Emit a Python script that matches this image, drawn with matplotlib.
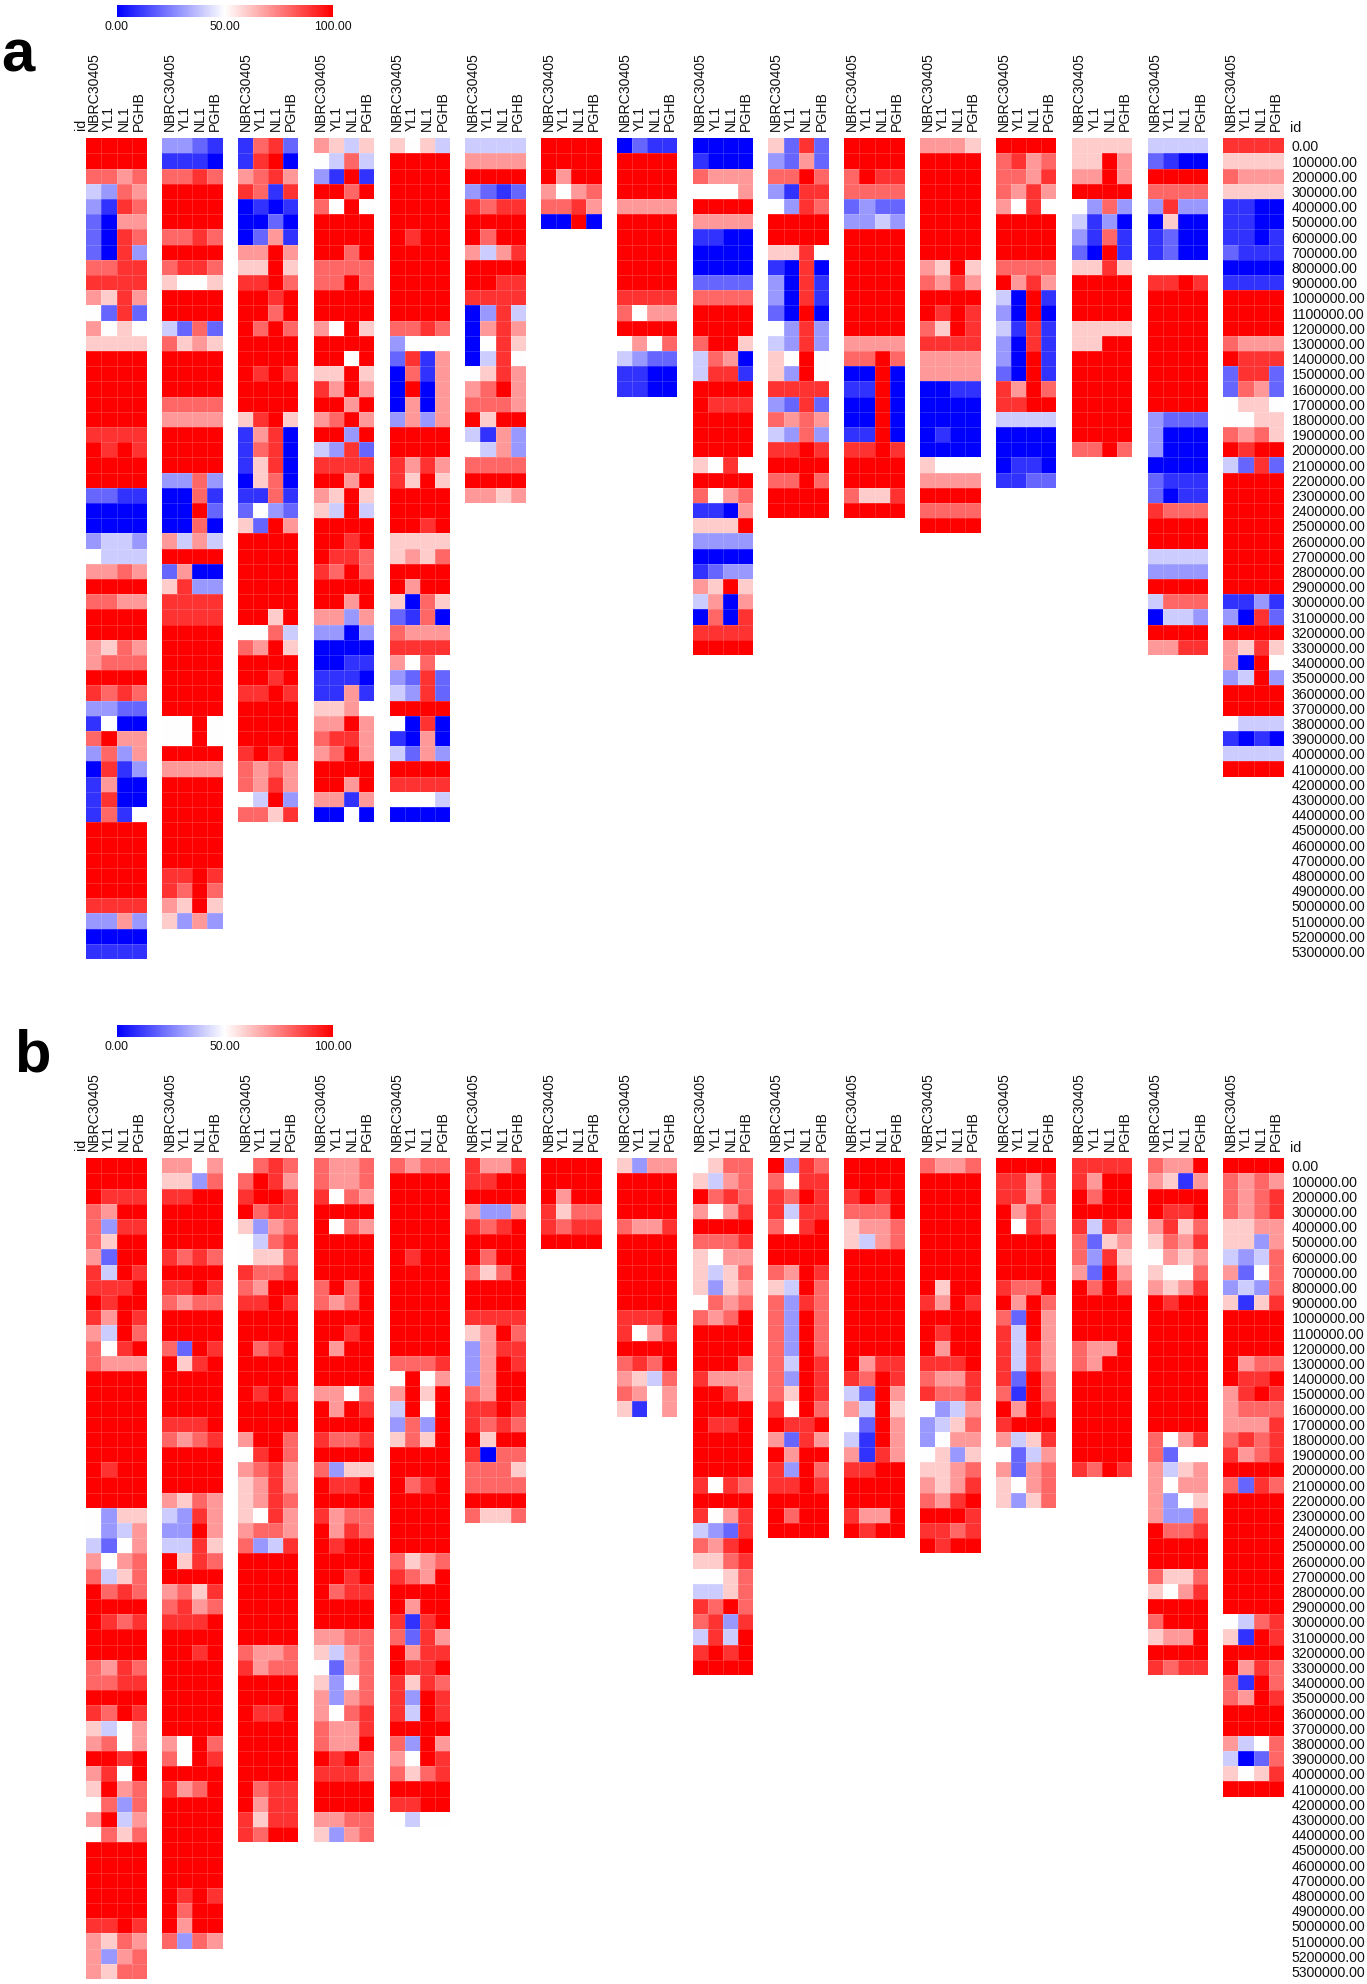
import matplotlib
matplotlib.use("Agg")
import matplotlib.pyplot as plt
from matplotlib.colors import LinearSegmentedColormap, Normalize
from matplotlib.cm import ScalarMappable
import numpy as np

plt.rcParams['font.family'] = ['Liberation Sans', 'DejaVu Sans']

SAMPLES = ["NBRC30405", "YL1", "NL1", "PGHB"]
POSITIONS = [f"{i * 100000}.00" if i else "0.00" for i in range(54)]

# every cell: digit d = d*10 %, A = 100 %; one string per row, columns in SAMPLES order
A00 = ["AAAA","AAAA","8878","4387","3198","2077","2098","2093","8899","9999","7697","5292","7565","6666","AAAA","AAAA","AAAA","AAAA","AAAA","9999","A9A9","AAAA","AAAA","2211","0000","0000","3443","5444","7787","AAAA","8877","AAAA","AAAA","7687","7888","AAAA","9898","3322","1500","8A77","3837","0913","1700","1900","1815","AAAA","AAAA","AAAA","AAAA","AAAA","9999","3373","0000","1111"]
A01 = ["3321","1110","8898","AAAA","AAAA","AAAA","8898","AAAA","8998","6556","AAAA","AAAA","4282","8676","AAAA","AAAA","AAAA","8888","7777","AAAA","AAAA","AAAA","3383","0081","00A2","0080","7474","AAAA","2700","6933","9999","9999","AAAA","AAAA","AAAA","AAAA","AAAA","AAAA","55A5","55A5","AAAA","7777","AAAA","AAAA","AAAA","AAAA","AAAA","AAAA","99A9","98A8","76A6","6373"]
A02 = ["1892","19A0","7897","9819","0101","0020","0271","77A7","66A6","99A8","AA9A","AA8A","A8A8","AAAA","AAAA","A9A9","AAAA","AAAA","69A6","1790","1890","1690","0680","1181","2532","62A7","AAAA","AAAA","AAAA","AAAA","AAAA","AA6A","5584","87A6","AAAA","AA9A","99A9","AAAA","AAAA","AAAA","9A9A","8787","8797","54A3","8869"]
A03 = ["7646","5484","31A1","AA8A","85A5","AAAA","AAAA","AA8A","8888","88A8","AAAA","AAAA","75A6","AAAA","AA5A","66A6","97A7","AA7A","78A7","AA3A","4392","9999","AA7A","76A6","64A4","AAAA","AA9A","A998","98A8","AAAA","AA7A","7737","3303","0000","0011","1110","1171","6675","77A7","8997","78A7","AAAA","AA7A","7717","0050"]
A04 = ["6564","AAAA","AAAA","AAAA","AAAA","AAAA","A9AA","AAAA","AAAA","AAAA","AAAA","AAAA","8898","3555","2917","0817","0A07","0707","3737","AAAA","AAAA","9797","96A6","AAAA","AAAA","AA9A","6666","6768","AAAA","A7AA","6086","2180","8777","9999","7585","3292","4392","AAAA","5090","1070","4273","AAAA","9999","5554","0000"]
A05 = ["4444","7777","AAAA","3212","9899","AAAA","A8AA","7479","AAAA","AA99","9999","0394","0797","0596","0495","5697","78A7","8887","A6AA","4173","5473","8888","AAAA","7767"]
A06 = ["AAAA","AAAA","A7AA","7578","8897","00A0"]
A07 = ["0211","AAAA","AAAA","AAAA","7777","AAAA","AAAA","AAAA","AAAA","AAAA","9999","8577","AAAA","5758","4322","1100","1100"]
A08 = ["0000","1000","8777","5557","AAAA","7777","1100","0000","0000","2222","8888","AAAA","AAAA","8AA6","4870","4991","AAAA","A999","AAAA","AAAA","AAAA","6595","AAAA","8578","1107","666A","3333","0000","1233","76A6","4707","0809","9999","AAAA"]
A09 = ["6292","3272","88A8","3199","5398","AAAA","AAAA","6695","1090","3091","3091","20A0","5393","4393","65A5","63A5","9999","3292","8787","4383","99A9","AAAA","88A8","AAAA","AAAA"]
A10 = ["AAAA","AAAA","8A99","8888","2322","3343","AAAA","AAAA","AAAA","AAAA","AAAA","AAAA","AAAA","7777","88A8","00A0","11A0","00A0","00A0","11A0","99A9","AAAA","AAAA","8669","AAAA"]
A11 = ["7776","AAAA","AAAA","AAAA","AAAA","AAAA","AAAA","AAAA","76A6","8797","AAAA","A9A9","86A9","9999","7777","7777","0011","0000","0000","0100","0000","6555","7777","AAAA","8888","AAAA"]
A12 = ["AAAA","8978","8879","8797","7595","AAAA","AAAA","AAAA","8888","A797","40A1","30A0","4191","3091","30A1","20A1","97A8","99AA","4444","0000","0000","0110","1122"]
A13 = ["6666","66A7","77A7","AAAA","5383","4130","3181","20A1","6696","AAAA","AAAA","AAAA","6666","66AA","AAAA","AAAA","AAAA","AAAA","AAAA","AAAA","88A8"]
A14 = ["4444","2100","AAAA","8888","3933","0600","1200","1200","5555","99A9","AAAA","AAAA","AAAA","AAAA","AAAA","AAAA","AAAA","AAAA","3222","3000","3000","0000","2111","2011","9888","AAAA","AAAA","4444","3333","AAAA","4888","0443","AAAA","7799"]
A15 = ["9999","6666","8777","6666","1100","1100","1101","2111","0000","1111","AAAA","AAAA","AAAA","8777","A999","2992","2872","5665","5566","8786","A9AA","4292","AAAA","AAAA","AAAA","AAAA","AAAA","AAAA","AAAA","AAAA","1131","3092","AAAA","7696","70A5","34A3","AAAA","AAAA","5444","1010","4444","AAAA"]

B00 = ["AAAA","AAAA","A999","87AA","8399","86AA","72AA","94A9","999A","A9AA","97A9","74A8","859A","8777","AAAA","AAAA","AAAA","AAAA","AAAA","AAAA","A9AA","AAAA","AAAA","5366","5347","4257","7578","8468","A898","AAAA","A989","AAAA","AAAA","8798","8899","AAAA","98A9","6457","7857","AA9A","795A","6A78","5838","7A47","5868","AAAA","AAAA","AAAA","AAAA","AAAA","99A9","7687","7378","7688"]
B01 = ["7757","6638","99AA","AAAA","AAAA","AAAA","9898","AAAA","99A9","8788","AAAA","AAAA","82A9","A69A","AAAA","AAAA","AAAA","999A","8789","AAAA","AAAA","AAAA","7687","4397","33A7","4496","A698","AAAA","7869","8978","999A","AAAA","AA9A","AAAA","AAAA","AAAA","AAAA","AAAA","75A8","85A9","AAAA","978A","AAAA","AAAA","AAAA","AAAA","AAAA","AAAA","A9A9","A8AA","A7AA","8387"]
B02 = ["5898","8A97","9AA9","A899","6378","5489","5668","9889","87AA","99A9","AAAA","AAAA","A89A","AAAA","AAAA","A9A9","AAAA","AAAA","7AA8","59A8","7897","6797","6798","6597","7887","8349","AAAA","AAAA","AAAA","AAAA","AAAA","AAAA","8778","9788","AAAA","AAAA","A99A","AAAA","AAAA","AAAA","AAAA","A899","A799","9699","98AA"]
B03 = ["8778","8778","9587","AAAA","A587","AAAA","AAAA","AAAA","8A8A","878A","AAAA","AA9A","A7AA","AAAA","AAAA","7758","A7A9","AAAA","9889","AAAA","8366","A99A","AAAA","9788","A798","A9AA","AAAA","AA9A","A899","AAAA","AAAA","7788","6478","5278","6358","7378","7589","8779","877A","A9A8","9998","AAAA","AAAA","7788","6378"]
B04 = ["8788","AAAA","AAAA","AAAA","AAAA","AAAA","A9AA","AAAA","AAAA","AAAA","AAAA","AAAA","AAAA","8889","5A57","7A6A","4A5A","383A","686A","AAAA","AAAA","A89A","AAAA","AAAA","AAAA","AAAA","8678","987A","AAAA","A7AA","919A","8297","A799","A99A","9698","93A9","94A9","AAAA","83A7","75A9","8689","AAAA","99AA","5455"]
B05 = ["9779","99AA","AAAA","7337","989A","AAAA","A8AA","868A","AAAA","AAAA","9999","67A8","3799","37A9","37AA","87AA","99A9","9898","A6AA","9088","8886","8888","AAAA","8668"]
B06 = ["AAAA","AAAA","A7AA","9688","9899","AAAA"]
B07 = ["6377","AAAA","AAAA","AAAA","8779","AAAA","AAAA","AAAA","AAAA","AAAA","999A","9579","AAAA","898A","7648","8757","6157"]
B08 = ["5688","6478","A898","7579","AAAA","8889","6577","6468","6367","5878","878A","AAAA","AAAA","AAA8","9777","AA97","AAAA","A99A","AAAA","AAAA","AAAA","9598","AAAA","9579","4329","879A","6689","5568","4468","98A8","8939","494A","9A9A","AAAA"]
B09 = ["A398","8599","98A9","9499","859A","AAAA","AAAA","87A9","64A8","8398","83A8","83A8","83A8","84A9","83A9","86A9","95A8","A99A","7297","A7AA","93A8","99A9","AAAA","A8AA","AAAA"]
B10 = ["AAAA","AAAA","9A9A","888A","6778","6478","AAAA","AAAA","AAAA","AAAA","AAAA","AAAA","AAAA","A799","98A9","42A7","74A6","52A7","41A7","7197","99AA","AAAA","AAAA","977A","A9AA"]
B11 = ["8778","AAAA","AAAA","AAAA","AAAA","AAAA","AAAA","AAAA","A6AA","97A9","AAAA","A9AA","A7AA","999A","8779","9889","5347","3468","3577","5636","6678","7679","879A","AAA9","9989","A9AA"]
B12 = ["AAAA","9979","9979","A798","A598","AAAA","AAAA","AAAA","988A","A7A8","82A7","94A7","9497","9497","92A8","81A8","A7A9","9AAA","7469","5247","7278","6578","6368"]
B13 = ["9999","97AA","A8AA","AAAA","9498","8267","8396","72A7","A8A8","AAAA","AAAA","AAAA","877A","87AA","AAAA","AAAA","AAAA","AAAA","AAAA","AAAA","98A9"]
B14 = ["877A","7617","AAAA","A99A","7968","6879","5767","6558","7679","A9AA","AAAA","AAAA","AAAA","AAAA","AAAA","AAAA","AAAA","AAAA","8579","8255","7467","7577","7356","7338","A889","AAAA","AAAA","8668","6579","AAAA","8AAA","677A","AAAA","9899"]
B15 = ["AAAA","8787","8789","8789","6677","6637","4348","7258","3438","6169","AAAA","AAAA","AAAA","A788","A99A","79A9","7888","7779","8989","9789","AAAA","8298","AAAA","AAAA","AAAA","AAAA","AAAA","AAAA","AAAA","AAAA","5489","61A9","AAAA","A798","81A8","87A9","AAAA","AAAA","7458","4028","6569","AAAA"]

PANEL_A = [A00, A01, A02, A03, A04, A05, A06, A07, A08, A09, A10, A11, A12, A13, A14, A15]
PANEL_B = [B00, B01, B02, B03, B04, B05, B06, B07, B08, B09, B10, B11, B12, B13, B14, B15]

W, H = 1367, 1984
CMAP = LinearSegmentedColormap.from_list("bwr_", ["#0000ff", "#ffffff", "#ff0000"])
NORM = Normalize(0, 100)


def decode(rows):
    return np.array([[100.0 if c == "A" else int(c) * 10.0 for c in r] for r in rows])


def add_px_axes(fig, x0, y0, x1, y1):
    return fig.add_axes([x0 / W, 1 - y1 / H, (x1 - x0) / W, (y1 - y0) / H])


def draw_panel(fig, blocks, top, cbar_y, letter, letter_xy):
    nrows = len(POSITIONS)
    cell_w, cell_h, stride, left = 15.13, 15.2, 75.8, 86.3
    bottom = top + nrows * cell_h
    for i, rows in enumerate(blocks):
        x0 = left + i * stride
        ax = add_px_axes(fig, x0, top, x0 + 4 * cell_w, bottom)
        vals = decode(rows)
        ax.pcolormesh(np.arange(5), np.arange(len(rows) + 1), vals, cmap=CMAP, norm=NORM,
                      edgecolors="none", antialiased=False)
        ax.hlines(np.arange(1, len(rows)), 0, 4, colors="white", linewidth=0.5, alpha=0.22)
        ax.vlines(np.arange(1, 4), 0, len(rows), colors="white", linewidth=0.5, alpha=0.22)
        ax.set_xlim(0, 4)
        ax.set_ylim(nrows, 0)
        ax.xaxis.tick_top()
        ax.set_xticks(np.arange(4) + 0.5, SAMPLES, rotation=90, fontsize=10.2, color="#111111")
        ax.tick_params(axis="x", length=0, pad=5.6)
        ax.set_yticks([])
        for s in ax.spines.values():
            s.set_visible(False)
        if i == len(blocks) - 1:
            ax.yaxis.tick_right()
            ax.set_yticks(np.arange(nrows) + 0.5, POSITIONS, fontsize=10.1, color="#111111")
            ax.tick_params(axis="y", length=0, pad=5.6)
    fig.text(80.5 / W, 1 - (top - 8) / H, "id", rotation=90, ha="center", va="bottom", fontsize=10.2, color="#111111")
    fig.text(1296 / W, 1 - (top - 3) / H, "id", rotation=0, ha="center", va="bottom", fontsize=10.2, color="#111111")

    cax = add_px_axes(fig, 116.7, cbar_y, 332.7, cbar_y + 12)
    cb = fig.colorbar(ScalarMappable(norm=NORM, cmap=CMAP), cax=cax, orientation="horizontal", ticks=[0, 50, 100], format="%.2f")
    cb.outline.set_visible(False)
    cb.ax.tick_params(length=0, pad=2.5, labelsize=8.8, labelcolor="#111111")

    fig.text(letter_xy[0] / W, 1 - letter_xy[1] / H, letter, fontsize=43, fontweight="bold",
             ha="left", va="baseline", color="black")


fig = plt.figure(figsize=(W / 100, H / 100), dpi=100, facecolor="white")
draw_panel(fig, PANEL_A, 138.3, 5.3, "a", (1, 72))
draw_panel(fig, PANEL_B, 1158.3, 1025.3, "b", (14, 1071))
fig.savefig("out.png", dpi=100, facecolor="white")
